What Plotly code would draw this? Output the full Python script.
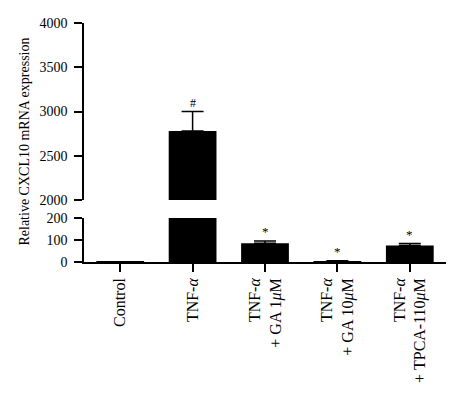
import plotly.graph_objects as go

categories = ["Control", "TNF-<i>α</i>", "TNF-<i>α</i><br>+ GA 1<i>μ</i>M",
              "TNF-<i>α</i><br>+ GA 10<i>μ</i>M", "TNF-<i>α</i><br>+ TPCA-110<i>μ</i>M"]
values = [1, 2780, 85, 4, 75]
errors = [0, 220, 10, 2, 9]
marks = ["", "#", "*", "*", "*"]

x = list(range(len(categories)))
FONT = "Liberation Serif, Times New Roman, serif"

fig = go.Figure()
for ya in ["y", "y2"]:
    fig.add_trace(go.Bar(
        x=x, y=values, yaxis=ya, width=0.66,
        marker=dict(color="black", line=dict(width=0)),
        error_y=dict(type="data", array=errors, arrayminus=[0]*len(errors),
                     symmetric=False, color="black", thickness=1.5, width=11),
        showlegend=False, hoverinfo="skip",
    ))

annotations = []
for i, (v, e, m) in enumerate(zip(values, errors, marks)):
    if not m:
        continue
    top = v + e
    yref = "y2" if top > 200 else "y"
    annotations.append(dict(x=i, y=top, xref="x", yref=yref, text=m, showarrow=False,
                            yanchor="bottom", yshift=0,
                            font=dict(family=FONT, size=13 if m == "*" else 12, color="black")))
annotations.append(dict(x=-0.163, y=0.504, xref="paper", yref="paper",
                        xanchor="center", yanchor="middle",
                        text="Relative CXCL10 mRNA expression", textangle=-90,
                        showarrow=False, font=dict(family=FONT, size=14, color="black")))

axis_common = dict(showline=True, linecolor="black", linewidth=1.5, ticks="outside",
                   ticklen=8, tickwidth=1.5, tickcolor="black", showgrid=False,
                   zeroline=False, automargin=False)

fig.update_layout(
    width=458, height=378,
    margin=dict(l=76, r=20, t=15, b=124),
    plot_bgcolor="white", paper_bgcolor="white",
    xaxis=dict(range=[-0.5, 4.5], tickvals=x, ticktext=categories, tickangle=-90,
               anchor="y", tickfont=dict(family=FONT, size=16, color="black"),
               **axis_common),
    yaxis=dict(domain=[0, 0.184], range=[0, 200], tickvals=[0, 100, 200], anchor="x",
               ticklabelstandoff=4,
               tickfont=dict(family=FONT, size=14, color="black"), **axis_common),
    yaxis2=dict(domain=[0.259, 1], range=[2000, 4000], tickvals=[2000, 2500, 3000, 3500, 4000],
                anchor="x", ticklabelstandoff=4,
                tickfont=dict(family=FONT, size=14, color="black"), **axis_common),
    annotations=annotations,
)

fig.write_html("out.html")
